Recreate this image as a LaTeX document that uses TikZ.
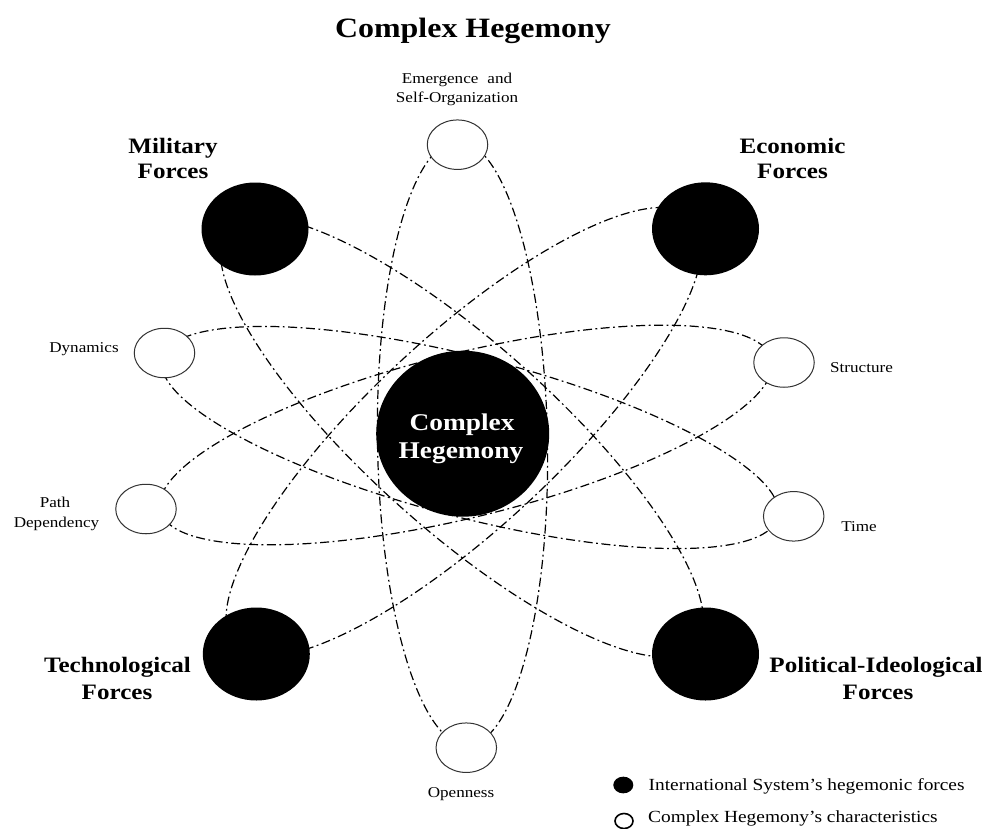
\documentclass[tikz,border=0pt]{standalone}
\usepackage{fontspec}
\setmainfont[FakeStretch=1.14]{Liberation Serif}
\usetikzlibrary{shapes.geometric}
\begin{document}
\begin{tikzpicture}[x=1pt,y=-1pt]
\tikzset{
  orbit/.style={line width=1.2pt, dash pattern=on 9pt off 3.5pt on 1.8pt off 3.5pt},
  force/.style={ellipse, fill=black, inner sep=0pt, outer sep=0pt,
                minimum width=107pt, minimum height=93pt},
  trait/.style={ellipse, draw=black!80, line width=1pt, fill=white, inner sep=0pt,
                outer sep=0pt, minimum width=60.5pt, minimum height=49.5pt},
  bigtext/.style={font=\fontsize{22}{25}\selectfont\bfseries, anchor=base, inner sep=0pt},
  smalltext/.style={font=\fontsize{15}{18}\selectfont, anchor=base, inner sep=0pt},
  legendtext/.style={font=\fontsize{17}{20}\selectfont, anchor=base west, inner sep=0pt},
}
\fill[white] (0,0) rectangle (982,828);
\useasboundingbox (0,0) rectangle (982,828);

% title
\node[font=\fontsize{28}{32}\selectfont\bfseries, anchor=base, inner sep=0pt]
  (title) at (473,37) {Complex Hegemony};

% the five orbits around the core
\begin{scope}[shift={(462.5,443)}, rotate=-89.1]
  \draw[orbit] (0,0) ellipse [x radius=302, y radius=85];
\end{scope}
\begin{scope}[shift={(470,437.5)}, rotate=-14.5]
  \draw[orbit] (0,0) ellipse [x radius=318, y radius=80];
\end{scope}
\begin{scope}[shift={(466,435)}, rotate=13.9]
  \draw[orbit] (0,0) ellipse [x radius=315, y radius=82];
\end{scope}
\begin{scope}[shift={(462,437)}, rotate=-41.8]
  \draw[orbit] (0,0) ellipse [x radius=313, y radius=93];
\end{scope}
\begin{scope}[shift={(464,432)}, rotate=43]
  \draw[orbit] (0,0) ellipse [x radius=313, y radius=95];
\end{scope}

% core
\node[ellipse, fill=black, inner sep=0pt, minimum width=173pt, minimum height=166pt]
  (core) at (462.7,433.7) {};
\node[bigtext, text=white, font=\fontsize{24}{26}\selectfont\bfseries] (coreA) at (462,430) {Complex};
\node[bigtext, text=white, font=\fontsize{24}{26}\selectfont\bfseries] (coreB) at (461,458) {Hegemony};

% hegemonic forces
\node[force] (mil)  at (255,229)     {};
\node[force] (eco)  at (705.5,228.8) {};
\node[force] (tech) at (256.3,654)   {};
\node[force] (pol)  at (705.5,654)   {};

% characteristics
\node[trait] (emer)  at (457.5,144.7) {};
\node[trait] (dyn)   at (164.5,353)   {};
\node[trait] (struc) at (784,362.5)   {};
\node[trait] (path)  at (146,509)     {};
\node[trait] (time)  at (793.7,516.3) {};
\node[trait] (open)  at (466.3,747.7) {};

% force labels
\node[bigtext] (milA)  at (173,153.5) {Military};
\node[bigtext] (milB)  at (173,178)   {Forces};
\node[bigtext] (ecoA)  at (792.5,153.5) {Economic};
\node[bigtext] (ecoB)  at (792.5,178)   {Forces};
\node[bigtext] (techA) at (117.5,672) {Technological};
\node[bigtext] (techB) at (117,699)   {Forces};
\node[bigtext] (polA)  at (876,672)   {Political-Ideological};
\node[bigtext] (polB)  at (878,699)   {Forces};

% characteristic labels
\node[smalltext] (emerA) at (457,83)    {Emergence\hskip0.6em and};
\node[smalltext] (emerB) at (457,102)   {Self-Organization};
\node[smalltext] (dynL)  at (84,352)    {Dynamics};
\node[smalltext] (strL)  at (861.5,372) {Structure};
\node[smalltext] (pathA) at (55,507)    {Path};
\node[smalltext] (pathB) at (56.5,527)  {Dependency};
\node[smalltext] (timeL) at (859,531)   {Time};
\node[smalltext] (openL) at (461,797)   {Openness};

% legend
\node[ellipse, fill=black, inner sep=0pt, minimum width=20pt, minimum height=16.7pt]
  (keyA) at (623.3,785) {};
\node[ellipse, draw=black, line width=1.6pt, fill=white, inner sep=0pt,
      minimum width=18pt, minimum height=15pt] (keyB) at (624,821) {};
\node[legendtext] (keyAL) at (648.5,790) {International System’s hegemonic forces};
\node[legendtext] (keyBL) at (648,822)   {Complex Hegemony’s characteristics};
\end{tikzpicture}
\end{document}
